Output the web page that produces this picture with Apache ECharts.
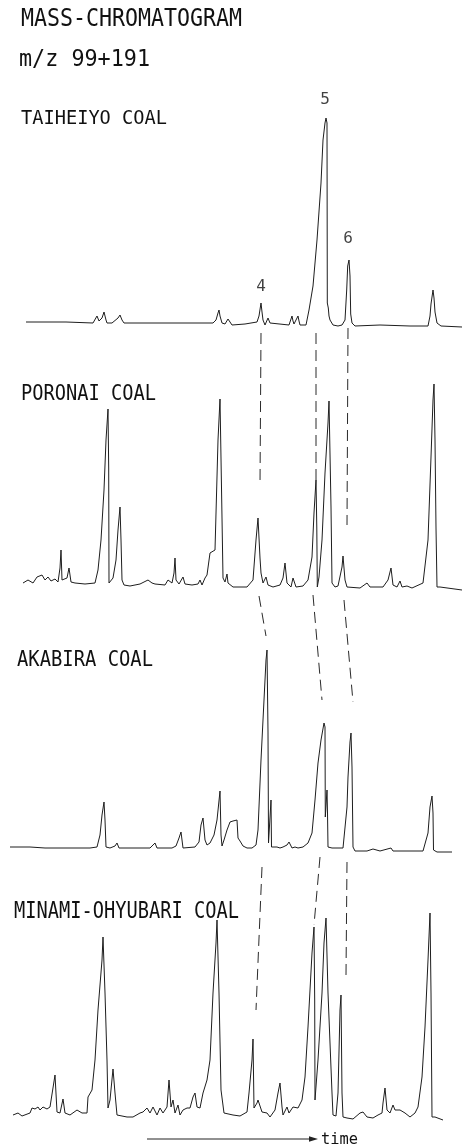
<!DOCTYPE html>
<html>
<head>
<meta charset="utf-8">
<script src="https://cdn.jsdelivr.net/npm/echarts@6/dist/echarts.min.js"></script>
<style>
html,body{margin:0;padding:0;background:#fff;}
#chart{width:462px;height:1148px;}
</style>
</head>
<body>
<div id="chart"></div>
<script>
// ---------- DATA (time in arbitrary units, relative intensity above baseline) ----------
const coalNames = ['TAIHEIYO COAL', 'PORONAI COAL', 'AKABIRA COAL', 'MINAMI-OHYUBARI COAL'];

const taiheiyoTime = [26,45,62,64,66,93,95,97,99,100,102,104,106,107,112,118,120,122,124,143,180,213,216,218,219,220,222,225,228,230,232,245,257,259,261,262,263,265,268,270,272,289,291,292,293,294,296,298,299,300,306,309,313,317,321,323,325,326,327,327.3,328.3,329,330,333,338,342,345,346.7,347.7,349,350,350.7,352,355,380,410,428,430,431,433,434,435,437,441,462];
const taiheiyoSignal = [4,4,4,5,4,3,5,10,5,4,8,14,6,3,3,8,11,6,3,3,3,3,6,13,16,10,3,2,7,4,1,2,4,10,23,14,6,1,8,3,1,1,7,10,5,2,6,10,5,1,1,16,40,86,143,186,203,208,203,23,18,10,6,1,0,1,6,36,60,66,50,12,3,0,1,0,0,10,22,36,28,14,3,0,-1];

const poronaiTime = [23,28,33,37,42,45,48,51,55,58,60,61,62,64,67,69,71,75,85,95,98,101,104,106,108,108.7,109,111,113,116,118,120,121,122,124,130,140,148,150,152,155,165,168,172,174,175,176,179,183,185,192,198,200,202,205,207,210,215,218,220,221.5,223,225,227,228,233,247,253,256,258,260,261,263,266,268,273,280,283,285,287,291,293,296,303,308,312,314,316,316.8,317.3,319,322,325,328,329,331,332,335,338,342,343,345,347,360,367,370,383,388,391,393,397,400,402,407,412,423,428,431,433,434,435,436,437,440,462];
const poronaiSignal = [5,8,5,11,13,8,11,7,9,6,20,38,8,6,10,20,6,5,4,5,18,48,98,148,179,120,5,3,10,28,58,81,48,8,3,2,4,8,9,5,4,3,8,5,15,30,8,4,11,4,3,4,8,3,10,13,35,38,148,189,100,10,6,14,5,1,1,8,48,70,30,15,5,11,3,1,3,10,25,5,1,10,1,2,8,31,75,108,60,1,11,48,115,165,187,81,5,1,2,21,32,8,1,0,5,1,1,8,20,3,1,7,1,2,0,5,48,131,188,204,148,60,1,1,-2];

const akabiraTime = [10,30,45,56,58,60,66,68,70,90,97,100,102,104,105,106,110,115,117,119,150,155,157,172,176,179,181,183,195,199,201,203,205,207,210,214,217,220,221,222,224,227,230,233,237,238,240,243,247,252,256,258,261,264,266,267,268,268.5,270,271,271.5,273,277,280,283,287,289,292,295,298,303,308,312,315,318,321,324,325,325.3,327,327.5,328,332,343,347,348,350,351,352,353,355,367,373,380,391,393,423,428,430,432,433,433.5,437,452];
const akabiraSignal = [5,5,4,4,6,4,4,5,4,4,5,17,37,50,32,5,4,6,9,4,4,9,4,4,6,14,20,4,5,10,27,34,12,7,9,17,32,61,17,6,12,22,30,31,32,14,11,6,4,4,7,22,92,152,192,202,120,9,10,52,5,3,5,4,5,7,10,4,5,4,5,9,19,52,89,112,129,125,35,62,39,5,4,4,45,75,110,119,85,5,1,1,3,1,4,1,1,19,45,56,39,2,0,0];

const minamiTime = [13,18,22,30,32,35,38,40,43,47,50,52,55,57,60,63,65,70,77,82,87,88,92,95,98,102,103,105,107,108,110,113,115,117,127,133,140,143,147,150,153,157,160,163,167,169,171,173,175,178,180,183,187,190,193,195,197,200,203,207,210,213,216,217,219,221,223,224,233,240,247,249,252,253,254,257,258,262,267,270,275,278,280,282,283,287,289,293,298,302,305,308,312,314,314.7,315,318,322,324,326,328,332,333,336,338,340,341,342,343,347,353,360,363,367,373,378,382,383,385,387,390,393,395,400,405,410,415,418,422,425,428,430,431,432,435,437,443];
const minamiSignal = [5,7,4,7,12,11,13,10,13,11,13,12,45,8,7,21,7,5,10,7,7,23,30,60,110,160,183,127,60,12,20,51,27,5,3,3,7,8,12,7,13,5,12,7,13,40,13,20,7,15,5,10,12,12,23,27,13,12,27,40,60,127,177,200,127,30,28,7,5,4,8,27,60,81,12,17,20,8,7,3,10,27,37,13,5,13,7,13,12,20,43,93,167,193,120,20,60,127,177,202,127,27,5,4,27,110,125,27,3,2,1,7,8,3,2,5,7,17,32,10,7,15,10,10,7,3,7,13,43,93,160,207,127,3,3,1,0];

// peak labels on the TAIHEIYO trace
const peakLabels = ['4', '5', '6'];
const peakLabelTime = [261, 325, 348];
const peakLabelLevel = [39, 226, 87];

// dashed correlation lines (time, level) drawn in the lower panel's coordinates
// each entry: [panelIndex, t1, level1, t2, level2]
const link4 = [[1, 261, 255, 260, 103], [2, 259, 256, 266, 216], [3, 262, 253, 256, 110]];
const link5 = [[1, 316, 255, 316, 108], [2, 313, 257, 322, 152], [3, 320, 263, 314, 195]];
const link6 = [[1, 348, 260, 347, 63], [2, 344, 252, 353, 150], [3, 347, 258, 346, 145]];

const titleLines = ['MASS-CHROMATOGRAM', 'm/z 99+191'];
const axisLabel = 'time';

// ---------- LAYOUT ----------
const baselines = [326, 588, 852, 1120];
const yMax = 265, yMin = -10;
const traceColor = '#1e1e1e';

const zip = (a, b) => a.map((v, i) => [v, b[i]]);
const traces = [
  zip(taiheiyoTime, taiheiyoSignal),
  zip(poronaiTime, poronaiSignal),
  zip(akabiraTime, akabiraSignal),
  zip(minamiTime, minamiSignal)
];

const grids = [], xAxes = [], yAxes = [], series = [];
baselines.forEach((b, i) => {
  grids.push({ left: 0, width: 462, top: b - yMax, height: yMax - yMin });
  xAxes.push({ type: 'value', gridIndex: i, min: 0, max: 462, show: false });
  yAxes.push({ type: 'value', gridIndex: i, min: yMin, max: yMax, show: false });
  series.push({
    name: coalNames[i], type: 'line', xAxisIndex: i, yAxisIndex: i,
    data: traces[i], symbol: 'none', smooth: false, silent: true,
    lineStyle: { color: traceColor, width: 1 }
  });
});

[link4, link5, link6].forEach(link => {
  link.forEach(seg => {
    series.push({
      type: 'line', xAxisIndex: seg[0], yAxisIndex: seg[0], symbol: 'none', silent: true,
      data: [[seg[1], seg[2]], [seg[3], seg[4]]],
      lineStyle: { color: '#2a2a2a', width: 1, type: [11, 6] }
    });
  });
});

series.push({
  type: 'scatter', xAxisIndex: 0, yAxisIndex: 0, symbolSize: 0, silent: true,
  data: peakLabelTime.map((t, i) => ({ value: [t, peakLabelLevel[i]], name: peakLabels[i] })),
  label: {
    show: true, position: 'inside', formatter: p => p.name,
    fontFamily: 'DejaVu Sans Mono', fontSize: 16, color: '#111'
  }
});

// ---------- TEXT (monospaced, horizontally condensed) ----------
const FONT = 'DejaVu Sans Mono';
const CAP = 0.729;
const mctx = document.createElement('canvas').getContext('2d');
function condensedText(str, left, cy, capH, width) {
  const fs = capH / CAP;
  mctx.font = fs + 'px "' + FONT + '"';
  const w = mctx.measureText(str).width;
  return {
    type: 'text', x: left, y: cy, scaleX: width / w, silent: true,
    style: { text: str, font: fs + 'px "' + FONT + '"', fill: '#111', align: 'left', verticalAlign: 'middle' }
  };
}

const graphic = [
  condensedText(titleLines[0], 21, 20, 18, 221),
  condensedText(titleLines[1], 19, 60, 16.5, 131),
  condensedText(coalNames[0], 21, 119, 14.5, 146),
  condensedText(coalNames[1], 21, 394.5, 15, 135),
  condensedText(coalNames[2], 17, 660.5, 15, 136),
  condensedText(coalNames[3], 14, 912, 17, 225),
  condensedText(axisLabel, 321, 1139.5, 12, 37),
  { type: 'line', silent: true, shape: { x1: 147, y1: 1139, x2: 311, y2: 1139 }, style: { stroke: '#222', lineWidth: 1 } },
  { type: 'polygon', silent: true, shape: { points: [[309, 1136.3], [318, 1139], [309, 1141.7]] }, style: { fill: '#222' } }
];

const chart = echarts.init(document.getElementById('chart'), null, { renderer: 'canvas' });
chart.setOption({
  backgroundColor: '#ffffff',
  animation: false,
  grid: grids, xAxis: xAxes, yAxis: yAxes,
  series: series,
  graphic: graphic
});
</script>
</body>
</html>
